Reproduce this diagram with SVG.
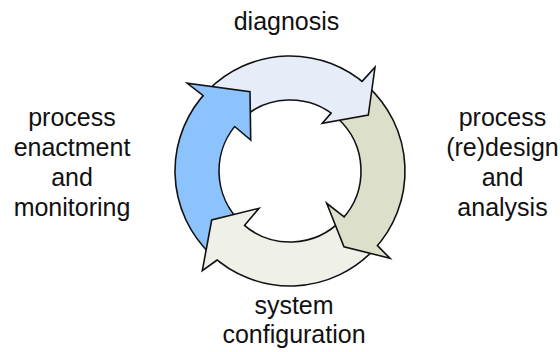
<svg xmlns="http://www.w3.org/2000/svg" width="560" height="352" viewBox="0 0 560 352">
  <style>
    .lbl { font-family: "Liberation Sans", Arial, sans-serif; font-size: 25px; fill: #111; text-anchor: middle; }
    .seg { stroke: #111; stroke-width: 1.6; stroke-linejoin: round; }
    .edge { fill: none; stroke: #111; stroke-width: 1.6; stroke-linejoin: miter; stroke-linecap: round; }
    .hf { stroke: none; }
    .c-blue { fill: #8DC3FD; }
    .c-lblue { fill: #E6EDF8; }
    .c-green { fill: #DCE0CA; }
    .c-gray { fill: #EFF0E7; }
  </style>
  <rect width="560" height="352" fill="#ffffff"/>

  <g id="connectors">
    <!-- arc bodies -->
    <path id="body-enactment" class="seg c-blue" d="M211.57,255.11 A115,115 0 0 1 207.97,90.40 L239.36,121.24 A71,71 0 0 0 241.58,222.93 Z"/>
    <path id="body-diagnosis" class="seg c-lblue" d="M207.97,90.40 A115,115 0 0 1 366.95,85.54 L337.51,118.24 A71,71 0 0 0 239.36,121.24 Z"/>
    <path id="body-design" class="seg c-green" d="M366.95,85.54 A115,115 0 0 1 374.11,249.43 L341.93,219.42 A71,71 0 0 0 337.51,118.24 Z"/>
    <path id="body-config" class="seg c-gray" d="M374.11,249.43 A115,115 0 0 1 211.57,255.11 L241.58,222.93 A71,71 0 0 0 341.93,219.42 Z"/>

    <!-- arrow heads -->
    <g id="head-enactment">
      <path class="hf c-blue" d="M203.21,95.55 L187.3,83.3 L250,91.7 L250.7,140 L234.67,126.51 Z"/>
      <path class="edge" d="M203.21,95.55 L187.3,83.3 L250,91.7 L250.7,140 L234.67,126.51"/>
    </g>
    <g id="head-diagnosis">
      <path class="hf c-lblue" d="M362.06,81.38 L375,67.3 L368.3,115 L322.3,123.3 L331.13,113.13 Z"/>
      <path class="edge" d="M362.06,81.38 L375,67.3 L368.3,115 L322.3,123.3 L331.13,113.13"/>
    </g>
    <g id="head-design">
      <path class="hf c-green" d="M377.45,245.68 L390,258.3 L344,246.7 L326.7,203.3 L344.15,216.92 Z"/>
      <path class="edge" d="M377.45,245.68 L390,258.3 L344,246.7 L326.7,203.3 L344.15,216.92"/>
    </g>
    <g id="head-config">
      <path class="hf c-gray" d="M217.16,259.99 L202.3,270.7 L211.7,220 L259,208.3 L244.46,225.47 Z"/>
      <path class="edge" d="M217.16,259.99 L202.3,270.7 L211.7,220 L259,208.3 L244.46,225.47"/>
    </g>
  </g>

  <g id="node-diagnosis">
    <text class="lbl" x="286.5" y="30">diagnosis</text>
  </g>
  <g id="node-redesign">
    <text class="lbl" x="502.5" y="126">process</text>
    <text class="lbl" x="502.5" y="156">(re)design</text>
    <text class="lbl" x="502.5" y="186">and</text>
    <text class="lbl" x="502.5" y="216">analysis</text>
  </g>
  <g id="node-configuration">
    <text class="lbl" x="294" y="314">system</text>
    <text class="lbl" x="294" y="343">configuration</text>
  </g>
  <g id="node-enactment">
    <text class="lbl" x="72" y="126">process</text>
    <text class="lbl" x="72" y="156">enactment</text>
    <text class="lbl" x="72" y="186">and</text>
    <text class="lbl" x="72" y="216">monitoring</text>
  </g>
</svg>
